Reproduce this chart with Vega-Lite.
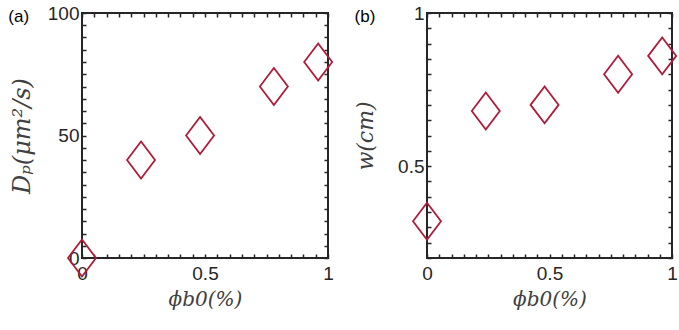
{
  "$schema": "https://vega.github.io/schema/vega-lite/v6.json",
  "padding": {"left": 7, "top": 3, "right": 5, "bottom": 5},
  "background": "white",
  "spacing": 16,
  "config": {
    "view": {"stroke": "#262626", "strokeWidth": 2},
    "axis": {
      "domain": false,
      "grid": false,
      "ticks": true,
      "tickSize": -4,
      "tickColor": "#262626",
      "tickWidth": 1.5,
      "labelFlush": false,
      "labelOverlap": false,
      "format": ".2~f",
      "labelFont": "Liberation Sans",
      "labelFontSize": 19,
      "labelColor": "#262626",
      "titleFont": "DejaVu Serif",
      "titleFontStyle": "italic",
      "titleFontWeight": "normal",
      "titleFontSize": 20,
      "titleColor": "#404040"
    },
    "title": {"font": "Liberation Sans", "fontSize": 17, "fontWeight": "normal", "color": "#000000"}
  },
  "datasets": {
    "dp": [
      {"phi": 0, "D": 0},
      {"phi": 0.24, "D": 40},
      {"phi": 0.48, "D": 50},
      {"phi": 0.78, "D": 70},
      {"phi": 0.96, "D": 80}
    ],
    "w": [
      {"phi": 0, "w": 0.32},
      {"phi": 0.24, "w": 0.68},
      {"phi": 0.48, "w": 0.70},
      {"phi": 0.78, "w": 0.80},
      {"phi": 0.96, "w": 0.86}
    ]
  },
  "hconcat": [
    {
      "width": 246,
      "height": 245,
      "title": {"text": "(a)", "anchor": "start", "frame": "bounds", "orient": "top", "dy": 22, "dx": -2, "offset": 0},
      "data": {"name": "dp"},
      "resolve": {"axis": {"x": "independent", "y": "independent"}},
      "layer": [
        {
          "mark": {"type": "point", "shape": "M-0.757,0L0,-1L0.757,0L0,1Z", "size": 1369, "filled": false, "opacity": 1, "stroke": "#b01c3a", "strokeWidth": 1.8, "clip": false},
          "encoding": {
            "x": {"field": "phi", "type": "quantitative", "scale": {"domain": [0, 1], "nice": false},
              "axis": {"orient": "bottom", "values": [0,0.05,0.1,0.15,0.2,0.25,0.3,0.35,0.4,0.45,0.5,0.55,0.6,0.65,0.7,0.75,0.8,0.85,0.9,0.95,1],
                "labelExpr": "datum.value == 0 || datum.value == 0.5 || datum.value == 1 ? datum.label : ''", "labelPadding": 10, "title": "ϕb0(%)", "titlePadding": 6}},
            "y": {"field": "D", "type": "quantitative", "scale": {"domain": [0, 100], "nice": false},
              "axis": {"orient": "left", "values": [0,5,10,15,20,25,30,35,40,45,50,55,60,65,70,75,80,85,90,95,100],
                "labelExpr": "datum.value % 50 == 0 ? datum.label : ''", "labelPadding": 7, "title": "Dₚ(μm²/s)", "titleFontSize": 24, "titlePadding": 13}}
          }
        },
        {
          "mark": {"type": "point", "opacity": 0},
          "encoding": {
            "x": {"field": "phi", "type": "quantitative", "scale": {"domain": [0, 1], "nice": false},
              "axis": {"orient": "top", "values": [0,0.05,0.1,0.15,0.2,0.25,0.3,0.35,0.4,0.45,0.5,0.55,0.6,0.65,0.7,0.75,0.8,0.85,0.9,0.95,1], "labels": false, "title": null}},
            "y": {"field": "D", "type": "quantitative", "scale": {"domain": [0, 100], "nice": false},
              "axis": {"orient": "right", "values": [0,5,10,15,20,25,30,35,40,45,50,55,60,65,70,75,80,85,90,95,100], "labels": false, "title": null}}
          }
        }
      ]
    },
    {
      "width": 245,
      "height": 245,
      "title": {"text": "(b)", "anchor": "start", "frame": "bounds", "orient": "top", "dy": 22, "offset": 0},
      "data": {"name": "w"},
      "resolve": {"axis": {"x": "independent", "y": "independent"}},
      "layer": [
        {
          "mark": {"type": "point", "shape": "M-0.757,0L0,-1L0.757,0L0,1Z", "size": 1369, "filled": false, "opacity": 1, "stroke": "#b01c3a", "strokeWidth": 1.8, "clip": false},
          "encoding": {
            "x": {"field": "phi", "type": "quantitative", "scale": {"domain": [0, 1], "nice": false},
              "axis": {"orient": "bottom", "values": [0,0.05,0.1,0.15,0.2,0.25,0.3,0.35,0.4,0.45,0.5,0.55,0.6,0.65,0.7,0.75,0.8,0.85,0.9,0.95,1],
                "labelExpr": "datum.value == 0 || datum.value == 0.5 || datum.value == 1 ? datum.label : ''", "labelPadding": 10, "title": "ϕb0(%)", "titlePadding": 6}},
            "y": {"field": "w", "type": "quantitative", "scale": {"domain": [0.2, 1], "nice": false},
              "axis": {"orient": "left", "values": [0.2,0.25,0.3,0.35,0.4,0.45,0.5,0.55,0.6,0.65,0.7,0.75,0.8,0.85,0.9,0.95,1],
                "labelExpr": "datum.value == 0.5 || datum.value == 1 ? datum.label : ''", "labelPadding": 7, "title": "w(cm)", "titleFontSize": 22, "titlePadding": 20}}
          }
        },
        {
          "mark": {"type": "point", "opacity": 0},
          "encoding": {
            "x": {"field": "phi", "type": "quantitative", "scale": {"domain": [0, 1], "nice": false},
              "axis": {"orient": "top", "values": [0,0.05,0.1,0.15,0.2,0.25,0.3,0.35,0.4,0.45,0.5,0.55,0.6,0.65,0.7,0.75,0.8,0.85,0.9,0.95,1], "labels": false, "title": null}},
            "y": {"field": "w", "type": "quantitative", "scale": {"domain": [0.2, 1], "nice": false},
              "axis": {"orient": "right", "values": [0.2,0.25,0.3,0.35,0.4,0.45,0.5,0.55,0.6,0.65,0.7,0.75,0.8,0.85,0.9,0.95,1], "labels": false, "title": null}}
          }
        }
      ]
    }
  ]
}
